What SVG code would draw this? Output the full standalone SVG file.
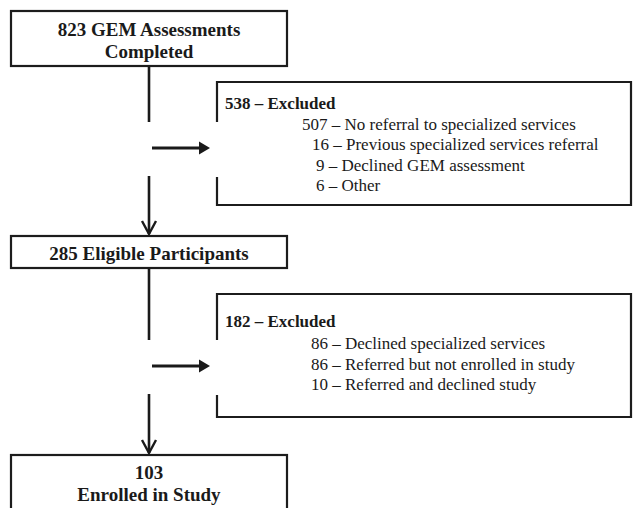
<svg xmlns="http://www.w3.org/2000/svg" width="633" height="508" viewBox="0 0 633 508">
  <style>
    .box { fill: #ffffff; stroke: #1c1c1c; stroke-width: 2.2; }
    .open { fill: none; stroke: #1c1c1c; stroke-width: 2.2; }
    .title { font-family: "Liberation Serif", "Times New Roman", serif; font-weight: bold; font-size: 19px; fill: #1a1a1a; text-anchor: middle; }
    .head { font-family: "Liberation Serif", "Times New Roman", serif; font-weight: bold; font-size: 17px; fill: #1a1a1a; }
    .item { font-family: "Liberation Serif", "Times New Roman", serif; font-size: 17px; fill: #1a1a1a; }
    .vline { stroke: #1a1a1a; stroke-width: 2.6; fill: none; }
    .hline { stroke: #1a1a1a; stroke-width: 3.2; fill: none; }
  </style>
  <defs>
    <marker id="vhead" markerUnits="userSpaceOnUse" viewBox="-15 -9 17 18" refX="0" refY="0" markerWidth="17" markerHeight="18" orient="auto">
      <path d="M-13,-7 L0,0 L-13,7" fill="none" stroke="#1a1a1a" stroke-width="2.4"/>
    </marker>
    <marker id="hhead" markerUnits="userSpaceOnUse" viewBox="0 -8 13 16" refX="1" refY="0" markerWidth="13" markerHeight="16" orient="auto">
      <path d="M0,-6.5 L11,0 L0,6.5 Z" fill="#1a1a1a"/>
    </marker>
  </defs>

  <g id="connectors">
    <line class="vline" x1="149" y1="66" x2="149" y2="122"/>
    <line class="vline" x1="149" y1="176" x2="149" y2="234" marker-end="url(#vhead)"/>
    <line class="hline" x1="152" y1="148" x2="200" y2="148" marker-end="url(#hhead)"/>
    <line class="vline" x1="149" y1="268" x2="149" y2="340"/>
    <line class="vline" x1="149" y1="394" x2="149" y2="453" marker-end="url(#vhead)"/>
    <line class="hline" x1="152" y1="366" x2="200" y2="366" marker-end="url(#hhead)"/>
  </g>

  <g id="node-assessments">
    <rect class="box" x="11" y="11" width="276" height="55"/>
    <text class="title" x="149" y="36">823 GEM Assessments</text>
    <text class="title" x="149" y="58">Completed</text>
  </g>

  <g id="node-excluded1">
    <path class="open" d="M217,122 L217,82 L631,82 L631,205 L217,205 L217,177"/>
    <text class="head" x="225" y="109">538 – Excluded</text>
    <text class="item" x="302" y="130">507 – No referral to specialized services</text>
    <text class="item" x="312" y="150">16 – Previous specialized services referral</text>
    <text class="item" x="316" y="170.5">9 – Declined GEM assessment</text>
    <text class="item" x="316" y="191">6 – Other</text>
  </g>

  <g id="node-eligible">
    <rect class="box" x="11" y="236" width="276" height="32"/>
    <text class="title" x="149" y="260">285 Eligible Participants</text>
  </g>

  <g id="node-excluded2">
    <path class="open" d="M217,340 L217,294 L631,294 L631,417 L217,417 L217,395"/>
    <text class="head" x="225" y="327">182 – Excluded</text>
    <text class="item" x="311" y="349">86 – Declined specialized services</text>
    <text class="item" x="311" y="370">86 – Referred but not enrolled in study</text>
    <text class="item" x="311" y="390">10 – Referred and declined study</text>
  </g>

  <g id="node-enrolled">
    <rect class="box" x="11" y="455" width="276" height="70"/>
    <text class="title" x="149" y="479">103</text>
    <text class="title" x="149" y="501">Enrolled in Study</text>
  </g>
</svg>
